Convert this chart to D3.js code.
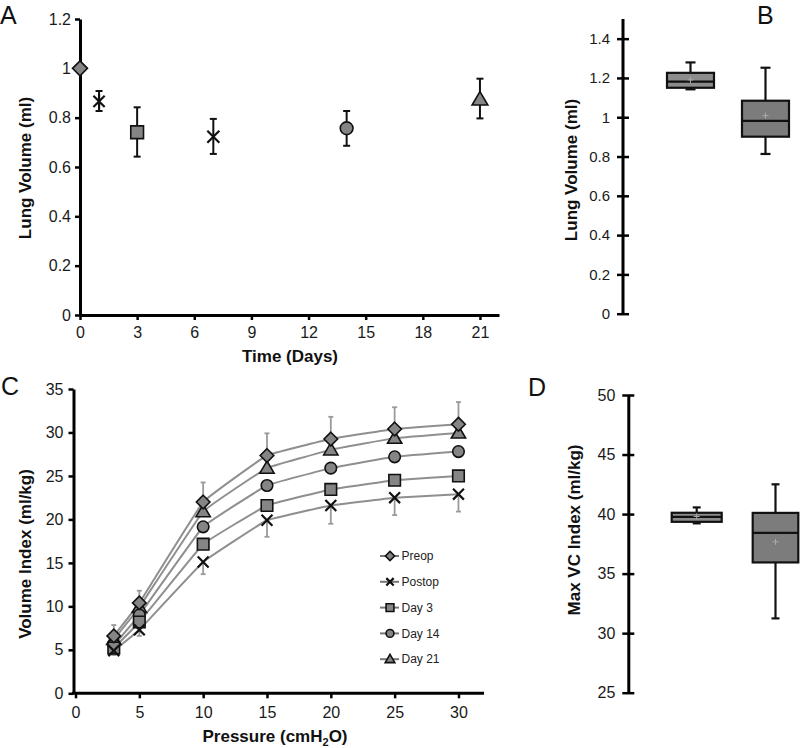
<!DOCTYPE html>
<html><head><meta charset="utf-8">
<script src="https://cdn.jsdelivr.net/npm/d3@7"></script>
<style>
body{margin:0;background:#fff;}
svg{display:block;font-family:"Liberation Sans",Arial,sans-serif;}
.tick text{fill:#1a1a1a;}
.title{font-size:17px;font-weight:bold;fill:#111;}
.letter{font-size:25px;fill:#111;}
</style></head>
<body>
<svg id="chart" width="800" height="748"></svg>
<script>
// ---------- DATA ----------
// Panel A: lung volume over time
const timeDays = [0, 1, 3, 7, 14, 21];
const timeMarkers = ["diamond", "asterisk", "square", "x", "circle", "triangle"];
const lungVolMean = [1.0, 0.866, 0.741, 0.723, 0.757, 0.874];
const lungVolLow  = [null, 0.827, 0.642, 0.653, 0.686, 0.797];
const lungVolHigh = [null, 0.908, 0.842, 0.795, 0.827, 0.958];
const aYTicks = [0, 0.2, 0.4, 0.6, 0.8, 1, 1.2];
const aXTicks = [0, 3, 6, 9, 12, 15, 18, 21];

// Panel B: box plots of lung volume
const bGroups = ["Group 1", "Group 2"];
const bWhiskerLow = [1.142, 0.813];
const bQ1 = [1.150, 0.901];
const bMedian = [1.181, 0.981];
const bQ3 = [1.226, 1.084];
const bWhiskerHigh = [1.279, 1.252];
const bMean = [1.19, 1.008];
const bYTicks = [0, 0.2, 0.4, 0.6, 0.8, 1, 1.2, 1.4];

// Panel C: pressure-volume curves
const pressure = [3, 5, 10, 15, 20, 25, 30];
const cSeries = ["Preop", "Postop", "Day 3", "Day 14", "Day 21"];
const cMarkers = ["diamond", "x", "square", "circle", "triangle"];
const preop  = [6.6, 10.4, 22.0, 27.35, 29.25, 30.4, 30.95];
const postop = [4.9, 7.3, 15.1, 19.9, 21.6, 22.5, 22.9];
const day3   = [5.2, 8.2, 17.15, 21.6, 23.45, 24.5, 25.0];
const day14  = [5.55, 9.0, 19.15, 23.9, 25.9, 27.2, 27.8];
const day21  = [6.2, 9.9, 20.9, 25.9, 28.0, 29.35, 29.95];
const preopErrHigh  = [7.85, 11.8, 24.25, 29.9, 31.8, 32.9, 33.5];
const postopErrLow  = [4.4, 6.6, 13.7, 18.0, 19.5, 20.5, 20.9];
const cYTicks = [0, 5, 10, 15, 20, 25, 30, 35];
const cXTicks = [0, 5, 10, 15, 20, 25, 30];

// Panel D: box plots of max VC index
const dGroups = ["Group 1", "Group 2"];
const dWhiskerLow = [39.22, 31.24];
const dQ1 = [39.35, 35.94];
const dMedian = [39.77, 38.43];
const dQ3 = [40.11, 40.1];
const dWhiskerHigh = [40.56, 42.5];
const dMean = [39.8, 37.67];
const dYTicks = [25, 30, 35, 40, 45, 50];

// ---------- HELPERS ----------
const svg = d3.select("#chart");
const GRAY = "#858585";

function markerPath(type, s) {
  const p = d3.path();
  if (type === "diamond") { p.moveTo(0,-s); p.lineTo(s,0); p.lineTo(0,s); p.lineTo(-s,0); p.closePath(); }
  else if (type === "square") { const h = s*0.85; p.rect(-h,-h,2*h,2*h); }
  else if (type === "circle") { const r = s*0.85; p.moveTo(r,0); p.arc(0,0,r,0,2*Math.PI); p.closePath(); }
  else if (type === "triangle") { p.moveTo(0,-s*1.05); p.lineTo(s*1.05,s*0.75); p.lineTo(-s*1.05,s*0.75); p.closePath(); }
  else if (type === "x") { const h = s*0.8; p.moveTo(-h,-h); p.lineTo(h,h); p.moveTo(-h,h); p.lineTo(h,-h); }
  else if (type === "asterisk") { const h = s*0.75; p.moveTo(-h,-h); p.lineTo(h,h); p.moveTo(-h,h); p.lineTo(h,-h); p.moveTo(0,-s); p.lineTo(0,s); }
  return p.toString();
}
function drawMarker(g, type, x, y, s) {
  const stroked = (type === "x" || type === "asterisk");
  g.append("path").attr("d", markerPath(type, s))
    .attr("transform", `translate(${x},${y})`)
    .attr("fill", stroked ? "none" : GRAY)
    .attr("stroke", "#111")
    .attr("stroke-width", stroked ? 2.2 : 1.6)
    .attr("stroke-linejoin", "miter");
}
function styleAxis(g, fontSize, crossTicks) {
  g.select(".domain").attr("stroke", "#000").attr("stroke-width", 3);
  g.selectAll(".tick line").attr("stroke", "#000").attr("stroke-width", 2.5);
  g.selectAll(".tick text").attr("font-size", fontSize + "px").attr("font-family", "Liberation Sans, Arial, sans-serif");
  if (crossTicks) g.selectAll(".tick line").attr("x1", 6);
}
function letter(txt, x, y) {
  svg.append("text").attr("class", "letter").attr("x", x).attr("y", y).text(txt);
}
function yTitle(txt, x, y) {
  svg.append("text").attr("class", "title").attr("text-anchor", "middle")
    .attr("transform", `translate(${x},${y}) rotate(-90)`).text(txt);
}

// ---------- PANEL A ----------
{
  const x = d3.scaleLinear().domain([0, 22]).range([80, 499]);
  const y = d3.scaleLinear().domain([0, 1.2]).range([315, 19]);
  const g = svg.append("g");
  const ya = g.append("g").attr("transform", `translate(${x(0)},0)`)
    .call(d3.axisLeft(y).tickValues(aYTicks).tickSize(5).tickSizeOuter(0).tickPadding(4).tickFormat(d => String(d)));
  styleAxis(ya, 16);
  const xa = g.append("g").attr("transform", `translate(0,${y(0)})`)
    .call(d3.axisBottom(x).tickValues(aXTicks).tickSize(5).tickSizeOuter(0).tickPadding(7));
  styleAxis(xa, 16);
  timeDays.forEach((d, i) => {
    if (lungVolLow[i] != null) {
      const cx = x(d);
      g.append("line").attr("x1", cx).attr("x2", cx).attr("y1", y(lungVolLow[i])).attr("y2", y(lungVolHigh[i])).attr("stroke", "#111").attr("stroke-width", 2);
      [lungVolLow[i], lungVolHigh[i]].forEach(v => g.append("line").attr("x1", cx-3.5).attr("x2", cx+3.5).attr("y1", y(v)).attr("y2", y(v)).attr("stroke", "#111").attr("stroke-width", 2));
    }
    drawMarker(g, timeMarkers[i], x(d), y(lungVolMean[i]), 7.5);
  });
  yTitle("Lung Volume (ml)", 31, 168);
  svg.append("text").attr("class", "title").attr("text-anchor", "middle").attr("x", 290).attr("y", 362).text("Time (Days)");
  letter("A", 0, 24);
}

// ---------- BOX PLOT HELPER ----------
function boxPanel(groups, wl, q1, med, q3, wh, mean, yScale, xPos, boxW, capW) {
  const g = svg.append("g");
  const x = d3.scalePoint().domain(groups).range(xPos);
  groups.forEach((grp, i) => {
    const cx = x(grp);
    g.append("line").attr("x1", cx).attr("x2", cx).attr("y1", yScale(wl[i])).attr("y2", yScale(q1[i])).attr("stroke", "#111").attr("stroke-width", 2.2);
    g.append("line").attr("x1", cx).attr("x2", cx).attr("y1", yScale(q3[i])).attr("y2", yScale(wh[i])).attr("stroke", "#111").attr("stroke-width", 2.2);
    [wl[i], wh[i]].forEach(v => g.append("line").attr("x1", cx-capW/2).attr("x2", cx+capW/2).attr("y1", yScale(v)).attr("y2", yScale(v)).attr("stroke", "#111").attr("stroke-width", 2.2));
    g.append("rect").attr("x", cx-boxW[i]/2).attr("width", boxW[i]).attr("y", yScale(q3[i])).attr("height", yScale(q1[i]) - yScale(q3[i]))
      .attr("fill", i === 0 ? "#8c8c8c" : "#7c7c7c").attr("stroke", "#111").attr("stroke-width", 2.2);
    g.append("line").attr("x1", cx-boxW[i]/2).attr("x2", cx+boxW[i]/2).attr("y1", yScale(med[i])).attr("y2", yScale(med[i])).attr("stroke", "#111").attr("stroke-width", 2.2);
    g.append("path").attr("d", `M${cx-3},${yScale(mean[i])}h6M${cx},${yScale(mean[i])-3}v6`).attr("stroke", "#aaa").attr("stroke-width", 1);
  });
  return g;
}

// ---------- PANEL B ----------
{
  const y = d3.scaleLinear().domain([0, 1.5]).range([313.7, 19]);
  const ya = svg.append("g").attr("transform", "translate(623,0)")
    .call(d3.axisLeft(y).tickValues(bYTicks).tickSize(6).tickSizeOuter(0).tickPadding(7).tickFormat(d => String(d)));
  styleAxis(ya, 15, true);
  ya.select(".domain").attr("d", `M0,${y(1.5)}V${y(0)}`);
  boxPanel(bGroups, bWhiskerLow, bQ1, bMedian, bQ3, bWhiskerHigh, bMean, y, [690.5, 765.5], [47, 47], 10);
  yTitle("Lung Volume (ml)", 577, 170);
  letter("B", 757, 24);
}

// ---------- PANEL C ----------
{
  const x = d3.scaleLinear().domain([0, 32]).range([75.5, 484]);
  const y = d3.scaleLinear().domain([0, 35]).range([693.3, 389]);
  const g = svg.append("g");
  const ya = g.append("g").attr("transform", `translate(${x(0)-2},0)`)
    .call(d3.axisLeft(y).tickValues(cYTicks).tickSize(5).tickSizeOuter(0).tickPadding(5));
  styleAxis(ya, 16);
  const xa = g.append("g").attr("transform", `translate(0,${y(0)})`)
    .call(d3.axisBottom(x).tickValues(cXTicks).tickSize(5).tickSizeOuter(0).tickPadding(8));
  styleAxis(xa, 16);
  xa.select(".domain").attr("d", `M${x(0)-3.5},0H${x(32)}`);

  const seriesVals = [preop, postop, day3, day14, day21];
  const line = d3.line().x((d, i) => x(pressure[i])).y(d => y(d)).curve(d3.curveCardinal.tension(0.78));
  // error bars
  const errG = g.append("g").attr("stroke", "#9a9a9a").attr("stroke-width", 1.8);
  pressure.forEach((p, i) => {
    const cx = x(p);
    errG.append("line").attr("x1", cx).attr("x2", cx).attr("y1", y(preop[i])).attr("y2", y(preopErrHigh[i]));
    errG.append("line").attr("x1", cx-2.5).attr("x2", cx+2.5).attr("y1", y(preopErrHigh[i])).attr("y2", y(preopErrHigh[i]));
    errG.append("line").attr("x1", cx).attr("x2", cx).attr("y1", y(postop[i])).attr("y2", y(postopErrLow[i]));
    errG.append("line").attr("x1", cx-2.5).attr("x2", cx+2.5).attr("y1", y(postopErrLow[i])).attr("y2", y(postopErrLow[i]));
  });
  seriesVals.forEach(vals => {
    g.append("path").datum(vals).attr("d", line).attr("fill", "none").attr("stroke", "#8f8f8f").attr("stroke-width", 2);
  });
  [4, 3, 2, 1, 0].forEach(si => {
    seriesVals[si].forEach((v, i) => drawMarker(g, cMarkers[si], x(pressure[i]), y(v), 6.8));
  });
  // legend
  const lg = g.append("g");
  cSeries.forEach((name, i) => {
    const ly = 556 + i * 25.8;
    lg.append("line").attr("x1", 380).attr("x2", 399).attr("y1", ly).attr("y2", ly).attr("stroke", "#777").attr("stroke-width", 2);
    drawMarker(lg, cMarkers[i], 390, ly, 4.6);
    lg.append("text").attr("x", 401.5).attr("y", ly + 4.2).attr("font-size", "12px").attr("fill", "#222").text(name);
  });
  yTitle("Volume Index (ml/kg)", 31, 554);
  const t = svg.append("text").attr("class", "title").attr("text-anchor", "middle").attr("x", 275).attr("y", 742);
  t.append("tspan").text("Pressure (cmH");
  t.append("tspan").attr("font-size", "11px").attr("dy", 4).text("2");
  t.append("tspan").attr("dy", -4).text("O)");
  letter("C", 1, 395);
}

// ---------- PANEL D ----------
{
  const y = d3.scaleLinear().domain([25, 50]).range([692.7, 395]);
  const ya = svg.append("g").attr("transform", "translate(628.3,0)")
    .call(d3.axisLeft(y).tickValues(dYTicks).tickSize(6).tickSizeOuter(0).tickPadding(7));
  styleAxis(ya, 16, true);
  boxPanel(dGroups, dWhiskerLow, dQ1, dMedian, dQ3, dWhiskerHigh, dMean, y, [696.7, 775.5], [50, 45.6], 8);
  yTitle("Max VC Index (ml/kg)", 580, 530);
  letter("D", 528, 396);
}
</script>
</body></html>
